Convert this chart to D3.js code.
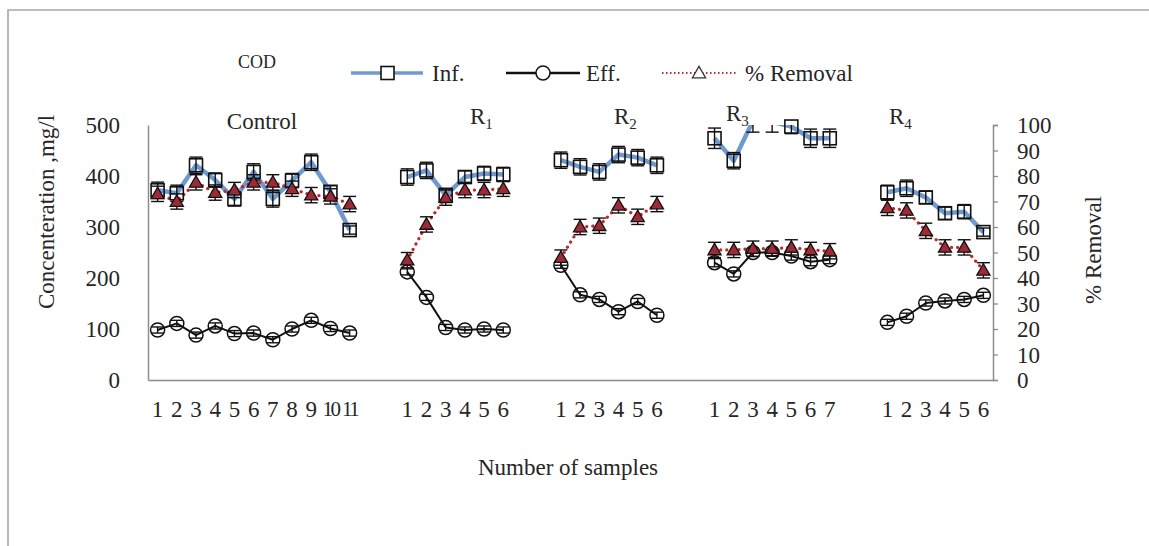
<!DOCTYPE html>
<html>
<head>
<meta charset="utf-8">
<script src="https://cdn.jsdelivr.net/npm/d3@7"></script>
<style>
  html, body { margin: 0; padding: 0; background: #fff; }
  svg { display: block; }
  svg text { font-family: "Liberation Serif", "Times New Roman", Times, serif; }
</style>
</head>
<body>
<svg id="chart" width="1149" height="546"></svg>
<script>
// ---------------- DATA ----------------
const groupNames = ["Control", "R1", "R2", "R3", "R4"];
const sampleCounts = [11, 6, 6, 7, 6];

// Influent COD (mg/l)
const infControl = [372, 366, 421, 392, 355, 408, 355, 391, 427, 369, 294];
const infR1 = [398, 411, 362, 398, 405, 403];
const infR2 = [431, 418, 408, 442, 436, 421];
const infR3 = [474, 430, 508, 506, 497, 474, 474];
const infR4 = [368, 376, 358, 327, 330, 290];

// Effluent COD (mg/l)
const effControl = [98, 111, 88, 106, 91, 92, 79, 100, 117, 101, 92];
const effR1 = [212, 162, 103, 98, 100, 98];
const effR2 = [225, 167, 158, 134, 154, 127];
const effR3 = [230, 208, 250, 250, 243, 232, 236];
const effR4 = [113, 125, 151, 155, 158, 166];

// % Removal
const remControl = [73, 70, 77.5, 73.5, 74.5, 77.5, 77.5, 75, 72.5, 72, 69];
const remR1 = [47, 61, 71.5, 74.5, 74.5, 75];
const remR2 = [48, 60, 60.5, 68.5, 64, 69];
const remR3 = [51, 51, 51.5, 51.5, 52, 51, 50.5];
const remR4 = [67.5, 66.5, 58.5, 52, 52, 43];

// error bar half-widths
const infErr = [[16,16,16,14,14,16,16,14,16,12,8],[16,16,14,12,14,14],[16,16,16,16,16,16],[20,16,22,20,14,18,18],[14,16,12,12,14,8]];
const effErr = [[6,6,6,6,6,6,6,6,6,6,6],[6,6,6,6,6,6],[6,6,6,6,6,6],[8,6,8,6,8,8,8],[6,6,6,6,6,6]];
const remErr = [[3,3,3,3,3,3,3,3,3,3,3],[3,3,3,3,3,3],[3,3,3,3,3,3],[3,3,3,3,3,3,3],[3,3,3,3,3,3]];

const infData = [infControl, infR1, infR2, infR3, infR4];
const effData = [effControl, effR1, effR2, effR3, effR4];
const remData = [remControl, remR1, remR2, remR3, remR4];

const concTicks = [0, 100, 200, 300, 400, 500];
const pctTicks = [0, 10, 20, 30, 40, 50, 60, 70, 80, 90, 100];

// ---------------- LAYOUT ----------------
const svg = d3.select("#chart");
const L = 148, R = 993, T = 125, B = 380;
const FONT = 23;
const FF = "Liberation Serif, Times New Roman, serif";
const TXT = "#262626";

// outer chart-area border (top & left visible)
svg.append("path").attr("d", "M8,546 V10 H1149")
  .attr("fill", "none").attr("stroke", "#a6a6a6").attr("stroke-width", 1.6);

// category domain: samples separated by 2 empty slots
const domain = [];
const labelOf = {};
groupNames.forEach((g, gi) => {
  if (gi > 0) { domain.push(`gap${gi}a`); domain.push(`gap${gi}b`); labelOf[`gap${gi}a`] = ""; labelOf[`gap${gi}b`] = ""; }
  for (let i = 1; i <= sampleCounts[gi]; i++) { const k = `${g}-${i}`; domain.push(k); labelOf[k] = String(i); }
});
const x = d3.scaleBand().domain(domain).range([L, R]).paddingInner(0).paddingOuter(0);
const cx = k => x(k) + x.bandwidth() / 2;
const yL = d3.scaleLinear().domain([0, 500]).range([B, T]);
const yR = d3.scaleLinear().domain([0, 100]).range([B, T]);

// clip for lines / error bars
svg.append("defs").append("clipPath").attr("id", "plotclip")
  .append("rect").attr("x", L - 10).attr("y", T).attr("width", R - L + 20).attr("height", B - T + 10);

function styleText(sel, size) {
  sel.attr("font-size", size).attr("font-family", FF).attr("fill", TXT);
}

// axes
const gLeft = svg.append("g").attr("transform", `translate(${L},0)`)
  .call(d3.axisLeft(yL).tickValues(concTicks).tickSize(0).tickPadding(28));
gLeft.attr("font-family", FF);
gLeft.select(".domain").attr("stroke", "#8c8c8c").attr("stroke-width", 1.5);
styleText(gLeft.selectAll("text"), FONT);
gLeft.selectAll("text").attr("dy", "0.34em");

const gRight = svg.append("g").attr("transform", `translate(${R},0)`)
  .call(d3.axisRight(yR).tickValues(pctTicks).tickSize(5).tickPadding(19));
gRight.attr("font-family", FF);
gRight.select(".domain").attr("stroke", "#8c8c8c").attr("stroke-width", 1.5);
gRight.selectAll("line").attr("stroke", "#8c8c8c").attr("stroke-width", 1.3);
styleText(gRight.selectAll("text"), FONT);
gRight.selectAll("text").attr("dy", "0.34em");

const gBottom = svg.append("g").attr("transform", `translate(0,${B})`)
  .call(d3.axisBottom(x).tickFormat(k => labelOf[k]).tickSize(0).tickPadding(21));
gBottom.attr("font-family", FF);
gBottom.select(".domain").attr("stroke", "#8c8c8c").attr("stroke-width", 1.5);
styleText(gBottom.selectAll("text"), FONT);
// two-digit sample numbers are squeezed into one category slot
gBottom.selectAll("text").filter(function () { return this.textContent.length > 1; })
  .attr("font-size", 21).attr("letter-spacing", "-2.5px");

// axis titles
styleText(svg.append("text").attr("transform", "translate(54,212) rotate(-90)")
  .attr("text-anchor", "middle").text("Concenteration ,mg/l"), FONT);
styleText(svg.append("text").attr("transform", "translate(1101,250) rotate(-90)")
  .attr("text-anchor", "middle").text("% Removal"), FONT);
styleText(svg.append("text").attr("x", 568).attr("y", 475)
  .attr("text-anchor", "middle").text("Number of samples"), FONT);

// group labels
const groupLabelPos = [[262, 129], [470, 124], [614, 124], [726, 121], [889, 124]];
groupNames.forEach((g, gi) => {
  const [lx, ly] = groupLabelPos[gi];
  const t = svg.append("text").attr("x", lx).attr("y", ly)
    .attr("text-anchor", gi === 0 ? "middle" : "start");
  styleText(t, FONT);
  if (gi === 0) t.text(g);
  else {
    t.append("tspan").text(g[0]);
    t.append("tspan").attr("font-size", 15).attr("dy", 5).text(g.slice(1));
  }
});

// build point records
function records(dataArr, errArr) {
  const out = [];
  groupNames.forEach((g, gi) => {
    dataArr[gi].forEach((v, i) => out.push({ g: gi, key: `${g}-${i + 1}`, v, e: errArr[gi][i] }));
  });
  return out;
}
const inf = records(infData, infErr);
const eff = records(effData, effErr);
const rem = records(remData, remErr);

const INF_COL = "#6f9ad0", REM_COL = "#c1272d";
const plot = svg.append("g");
const clipped = plot.append("g").attr("clip-path", "url(#plotclip)");

function drawLines(recs, y, style) {
  groupNames.forEach((g, gi) => {
    const pts = recs.filter(r => r.g === gi);
    clipped.append("path").datum(pts)
      .attr("d", d3.line().x(r => cx(r.key)).y(r => y(r.v)))
      .attr("fill", "none").attr("stroke", style.color).attr("stroke-width", style.width)
      .attr("stroke-dasharray", style.dash || null).attr("stroke-linecap", style.cap || "butt")
      .attr("stroke-linejoin", "round");
  });
}
function drawErr(recs, y, cap) {
  const g = clipped.append("g").attr("stroke", "#111").attr("stroke-width", 1.4);
  recs.forEach(r => {
    const X = cx(r.key), y1 = y(r.v - r.e), y2 = y(r.v + r.e);
    g.append("line").attr("x1", X).attr("x2", X).attr("y1", y1).attr("y2", y2);
    g.append("line").attr("x1", X - cap).attr("x2", X + cap).attr("y1", y1).attr("y2", y1);
    g.append("line").attr("x1", X - cap).attr("x2", X + cap).attr("y1", y2).attr("y2", y2);
  });
}

// Influent
drawLines(inf, yL, { color: INF_COL, width: 4.5 });
drawErr(inf, yL, 6.5);
plot.append("g").selectAll("rect").data(inf.filter(r => r.v <= 500)).join("rect")
  .attr("x", r => cx(r.key) - 6.5).attr("y", r => yL(r.v) - 6.5).attr("width", 13).attr("height", 13)
  .attr("fill", "none").attr("stroke", "#111").attr("stroke-width", 1.6);

// Effluent
drawLines(eff, yL, { color: "#111", width: 2 });
drawErr(eff, yL, 6);
plot.append("g").selectAll("circle").data(eff).join("circle")
  .attr("cx", r => cx(r.key)).attr("cy", r => yL(r.v)).attr("r", 7)
  .attr("fill", "none").attr("stroke", "#111").attr("stroke-width", 1.5);

// % Removal (secondary)
drawLines(rem, yR, { color: REM_COL, width: 3.2, dash: "0.1 6", cap: "round" });
drawErr(rem, yR, 6.5);
const tri = d3.symbol().type(d3.symbolTriangle).size(75);
plot.append("g").selectAll("path").data(rem).join("path")
  .attr("d", tri).attr("transform", r => `translate(${cx(r.key)},${yR(r.v) + 1})`)
  .attr("fill", "#9e2a35").attr("stroke", "#111").attr("stroke-width", 1.3);

// legend
const LY = 73;
styleText(svg.append("text").attr("x", 238).attr("y", 68).text("COD"), 18);
const lg = svg.append("g");
lg.append("line").attr("x1", 351).attr("x2", 423).attr("y1", LY).attr("y2", LY).attr("stroke", INF_COL).attr("stroke-width", 3.5);
lg.append("rect").attr("x", 381).attr("y", LY - 6.5).attr("width", 13).attr("height", 13).attr("fill", "#fff").attr("stroke", "#111").attr("stroke-width", 1.6);
styleText(lg.append("text").attr("x", 432).attr("y", LY + 8).text("Inf."), FONT);
lg.append("line").attr("x1", 506).attr("x2", 580).attr("y1", LY).attr("y2", LY).attr("stroke", "#111").attr("stroke-width", 2.5);
lg.append("circle").attr("cx", 543).attr("cy", LY).attr("r", 7).attr("fill", "#fff").attr("stroke", "#111").attr("stroke-width", 1.5);
styleText(lg.append("text").attr("x", 586).attr("y", LY + 8).text("Eff."), FONT);
lg.append("line").attr("x1", 662).attr("x2", 736).attr("y1", LY).attr("y2", LY).attr("stroke", REM_COL).attr("stroke-width", 2).attr("stroke-dasharray", "1.5 2.5");
lg.append("path").attr("d", tri).attr("transform", `translate(699,${LY + 1})`).attr("fill", "#fff").attr("stroke", "#333").attr("stroke-width", 1.3);
styleText(lg.append("text").attr("x", 745).attr("y", LY + 8).text("% Removal"), FONT);
</script>
</body>
</html>
